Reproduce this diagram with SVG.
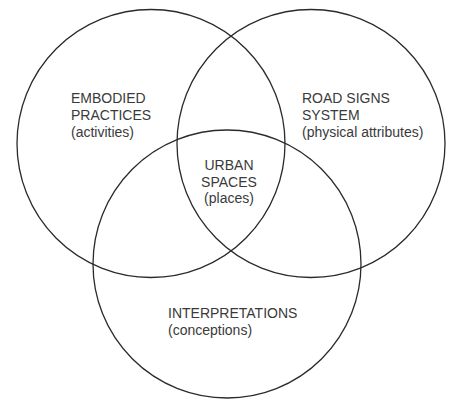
<svg xmlns="http://www.w3.org/2000/svg" width="450" height="403" viewBox="0 0 450 403">
<style>
.c{fill:none;stroke:#2a2a2a;stroke-width:1.3}
.t{font-family:"Liberation Sans",Arial,sans-serif;font-size:14px;fill:#3a3a3a}
.m{text-anchor:middle}
</style>
<rect width="450" height="403" fill="#ffffff"/>
<g id="embodied-practices">
<circle class="c" cx="151" cy="143.5" r="134"/>
<text class="t" x="71" y="103">EMBODIED</text>
<text class="t" x="71" y="120">PRACTICES</text>
<text class="t" x="71" y="137">(activities)</text>
</g>
<g id="road-signs-system">
<circle class="c" cx="311" cy="143.5" r="134"/>
<text class="t" x="302" y="103">ROAD SIGNS</text>
<text class="t" x="302" y="120">SYSTEM</text>
<text class="t" x="302" y="137">(physical attributes)</text>
</g>
<g id="interpretations">
<circle class="c" cx="227" cy="264" r="134"/>
<text class="t" x="168" y="318">INTERPRETATIONS</text>
<text class="t" x="168" y="335">(conceptions)</text>
</g>
<g id="urban-spaces">
<text class="t m" x="229" y="170">URBAN</text>
<text class="t m" x="229" y="187">SPACES</text>
<text class="t m" x="229" y="203">(places)</text>
</g>
<g id="connectors"/>
</svg>
